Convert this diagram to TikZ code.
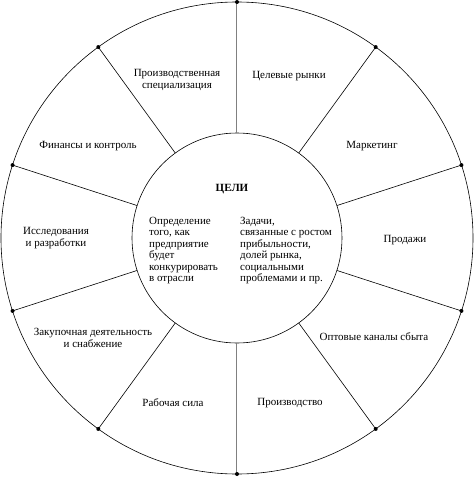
\documentclass[tikz,border=0pt]{standalone}
\usepackage{fontspec}
\setmainfont{Liberation Serif}
\begin{document}
\begin{tikzpicture}[x=1pt, y=1pt, font=\fontsize{11}{11.4}\selectfont,
        ring/.style={circle, draw, line width=0.6pt, inner sep=0pt, outer sep=0pt},
        spoke/.style={line width=0.6pt},
        sector/.style={align=center, inner sep=1pt},
        block/.style={align=left, anchor=north west, inner sep=0pt}]
        \useasboundingbox (-237,-239) rectangle (237,238);

        \node[ring, minimum size=472pt] (outer) at (0,0) {};
        \node[ring, minimum size=210pt] (inner) at (0,0) {};

        \foreach \a in {54, 18, -18, -54, -126, -162, 162, 126} {
            \draw[spoke] (inner.\a) -- (outer.\a);
            \fill (outer.\a) circle (2);
        }
        \foreach \a in {90, -90} {
            \draw[spoke, gray, line width=1pt] (inner.\a) -- (outer.\a);
            \fill (outer.\a) circle (2);
        }

        \foreach \x/\y/\name/\txt in {-60/158/spec/{Производственная\\специализация},
                52/162/rynki/{Целевые рынки},
                -149/92/finans/{Финансы и контроль},
                135/92/market/{Маркетинг},
                -181/0/issled/{Исследования\\и разработки},
                168/-2/prodazhi/{Продажи},
                -144/-100/zakup/{Закупочная деятельность\\и снабжение},
                137/-99/opt/{Оптовые каналы сбыта},
                -64/-165/rabsila/{Рабочая сила},
                53/-165/proizv/{Производство}} {
            \node[sector] (\name) at (\x,\y) {\txt};
        }

        \node[font=\fontsize{11}{11.4}\selectfont\bfseries] (celi) at (-5,49) {ЦЕЛИ};
        \node[block] (konkur) at (-88,21) {Определение\\того, как\\предприятие\\будет\\конкурировать\\в отрасли};
        \node[block] (zadachi) at (3,21) {Задачи,\\связанные с ростом\\прибыльности,\\долей рынка,\\социальными\\проблемами и пр.};
    \end{tikzpicture}
\end{document}
